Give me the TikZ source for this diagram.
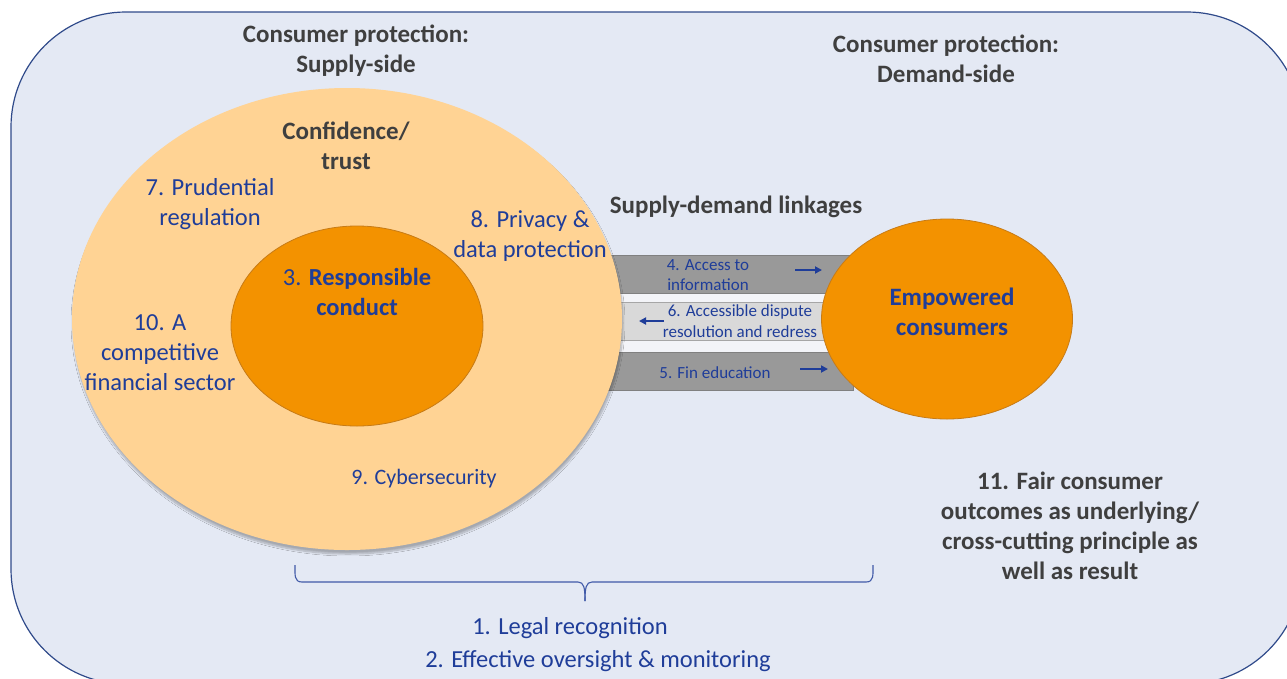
\documentclass[tikz,border=0pt]{standalone}
\usepackage{fontspec}
\setmainfont{Carlito}
\usetikzlibrary{shapes.geometric,arrows.meta,shadows.blur}

\definecolor{bgfill}{HTML}{E4E9F4}
\definecolor{frameline}{HTML}{2F4A8A}
\definecolor{peach}{HTML}{FFD394}
\definecolor{orangefill}{HTML}{F39200}
\definecolor{orangeline}{HTML}{C77B16}
\definecolor{txtblue}{HTML}{1F3D99}
\definecolor{txtgray}{HTML}{3F3F3F}
\definecolor{bardark}{HTML}{999999}
\definecolor{barlight}{HTML}{D9D9D9}
\definecolor{barline}{HTML}{808080}
\definecolor{gapfill}{HTML}{F3F4F8}

\begin{document}
\begin{tikzpicture}[x=1pt,y=-1pt,
  heading/.style={font=\fontsize{25}{30}\selectfont\bfseries, text=txtgray, align=center, inner sep=0pt},
  bluelabel/.style={font=\fontsize{24.5}{30}\selectfont, text=txtblue, align=center, inner sep=0pt},
  bartext/.style={font=\fontsize{17}{20.5}\selectfont, text=txtblue, align=center, inner sep=0pt},
  flow/.style={txtblue, line width=2pt, -{Triangle[length=7pt,width=7pt]}},
  darkbar/.style={fill=bardark, draw=barline, line width=0.8pt},
  lightbar/.style={fill=barlight, draw=barline!70, line width=0.8pt},
  bracket/.style={draw=txtblue!85, line width=1.1pt}]

\useasboundingbox (0,0) rectangle (1287,678);
\clip (0,0) rectangle (1287,678);

% frame
\draw[frameline, fill=bgfill, line width=1.2pt, rounded corners=115pt] (11,12) rectangle (1302,684);

% supply-demand bars
\fill[gapfill] (610,293) rectangle (845,352);
\draw[darkbar] (600,255) rectangle (853,293);
\draw[lightbar] (600,302) rectangle (830,340);
\draw[darkbar] (600,352) rectangle (853,390);

% supply side
\node[ellipse, fill=peach, minimum width=550pt, minimum height=462pt, inner sep=0pt,
      blur shadow={shadow xshift=1pt, shadow yshift=-4pt, shadow blur steps=8, shadow opacity=28}]
      (supply) at (347,319) {};
\node[ellipse, fill=orangefill, draw=orangeline, line width=0.8pt,
      minimum width=252pt, minimum height=200pt, inner sep=0pt] (core) at (357,326) {};

% demand side
\node[ellipse, fill=orangefill, draw=orangeline, line width=0.8pt,
      minimum width=251pt, minimum height=200pt, inner sep=0pt] (demand) at (947,319) {};

% headings
\node[heading] (suphead) at (356,51) {Consumer protection:\\Supply-side};
\node[heading] (demhead) at (946,59) {Consumer protection:\\Demand-side};
\node[heading] (trust) at (346,146) {Confidence/\\trust};
\node[heading] (linkhead) at (736,207) {Supply-demand linkages};
\node[heading] (fair) at (1070,526) {11. Fair consumer\\outcomes as underlying/\\cross-cutting principle as\\well as result};

% supply-side labels
\node[bluelabel] (prud) at (210,204) {7. Prudential\\regulation};
\node[bluelabel] (privacy) at (530,236) {8. Privacy \&\\data protection};
\node[bluelabel] (compet) at (160,353) {10. A\\competitive\\financial sector};
\node[bluelabel, font=\fontsize{22}{30}\selectfont] (cyber) at (424,479) {9. Cybersecurity};
\node[bluelabel] (conduct) at (357,292) {3. \textbf{Responsible}\\\textbf{conduct}};
\node[bluelabel, font=\fontsize{25}{30}\selectfont\bfseries] (empower) at (952,312) {Empowered\\consumers};

% bar texts
\node[bartext] (access) at (708,275) {4. Access to\\information};
\node[bartext] (dispute) at (740,321) {6. Accessible dispute\\resolution and redress};
\node[bartext] (fined) at (715,373) {5. Fin education};

% bar arrows
\coordinate (a1s) at (795,270); \coordinate (a1e) at (822,270);
\coordinate (a2s) at (664,321); \coordinate (a2e) at (639,321);
\coordinate (a3s) at (800,369); \coordinate (a3e) at (828,369);
\draw[flow] (a1s) -- (a1e);
\draw[flow] (a2s) -- (a2e);
\draw[flow] (a3s) -- (a3e);

% bracket
\coordinate (brl) at (295,565);
\coordinate (brr) at (873,565);
\coordinate (brtip) at (585,601);
\draw[bracket] (brl) .. controls (295,575) and (294,582) .. (302,582)
  -- (578,582) .. controls (584,582) and (585,588) .. (brtip);
\draw[bracket] (brr) .. controls (873,575) and (874,582) .. (866,582)
  -- (592,582) .. controls (586,582) and (585,588) .. (brtip);

% bottom labels
\node[bluelabel] (legal) at (570,628) {1. Legal recognition};
\node[bluelabel] (oversight) at (598,661) {2. Effective oversight \& monitoring};

\end{tikzpicture}
\end{document}
